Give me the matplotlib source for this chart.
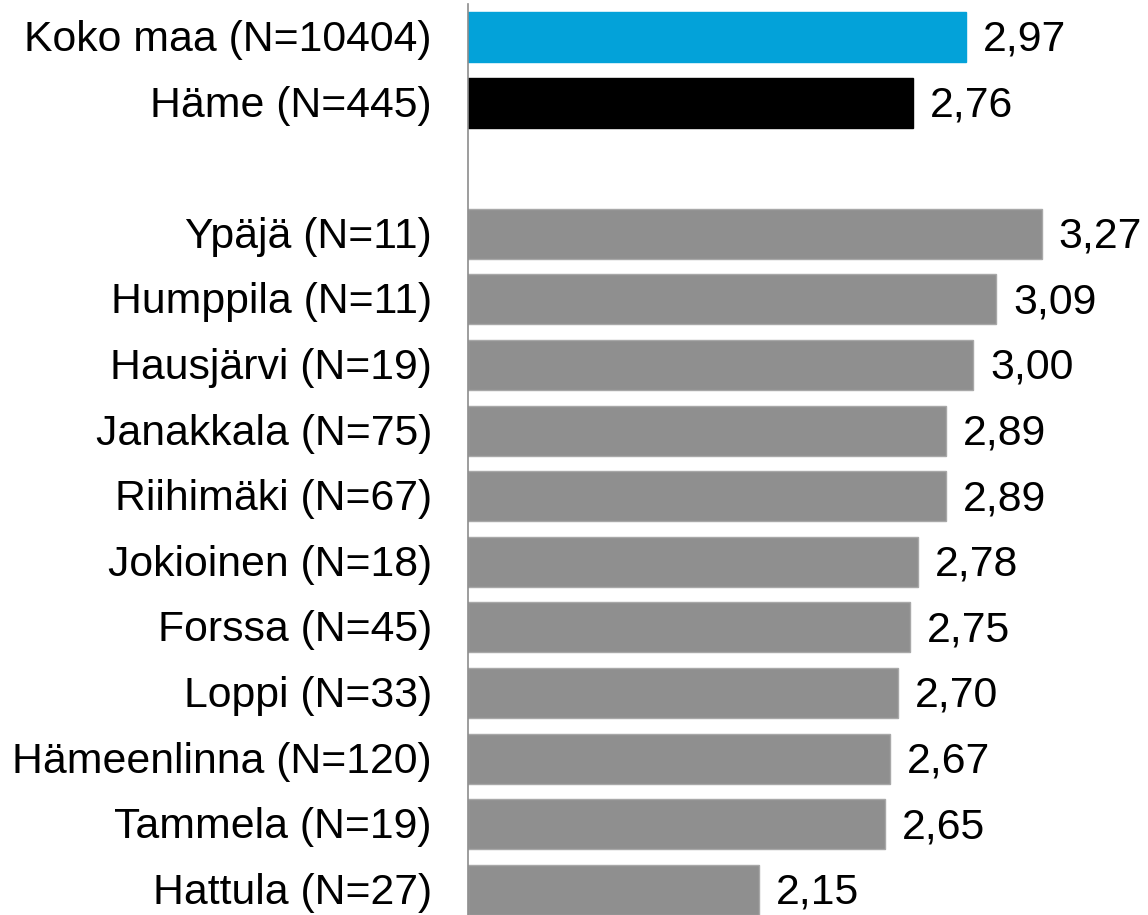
import matplotlib
matplotlib.use("Agg")
import matplotlib.pyplot as plt

labels = ["Koko maa (N=10404)", "Häme (N=445)", "",
          "Ypäjä (N=11)", "Humppila (N=11)", "Hausjärvi (N=19)", "Janakkala (N=75)",
          "Riihimäki (N=67)", "Jokioinen (N=18)", "Forssa (N=45)", "Loppi (N=33)",
          "Hämeenlinna (N=120)", "Tammela (N=19)", "Hattula (N=27)"]
values = [2.97, 2.76, None, 3.27, 3.09, 3.00, 2.89, 2.89, 2.78, 2.75, 2.70, 2.67, 2.65, 2.15]
colors = ["#03A2D9", "#000000", None] + ["#8F8F8F"] * 11

plt.rcParams['font.family'] = ['Liberation Sans', 'DejaVu Sans']
W, H = 1148, 915
fig = plt.figure(figsize=(W / 100, H / 100), dpi=100)
left = 468 / W
top_px, bot_px = 4, 915
ax = fig.add_axes([left, 1 - bot_px / H, 1 - left, (bot_px - top_px) / H])

xmin = 1.0
ppu = 252.7
xmax = xmin + (W - 468) / ppu
step = 65.6
c0 = 37
ax.set_xlim(xmin, xmax)
ax.set_ylim((bot_px - c0) / step, (top_px - c0) / step)

fs = 30.75
dy = 3 / step
for i, (lab, v, c) in enumerate(zip(labels, values, colors)):
    if v is None:
        continue
    ec = "#A8A8A8" if c == "#8F8F8F" else c
    ax.barh(i, v - xmin, left=xmin, height=50 / step, color=c, edgecolor=ec, linewidth=1)
    ax.text(v + 17 / ppu, i + dy, f"{v:.2f}".replace(".", ","), va="center", ha="left",
            fontsize=fs, color="black", clip_on=False)
    ax.text(xmin - 36 / ppu, i + dy, lab, va="center", ha="right", fontsize=fs,
            color="black", clip_on=False)

for s in ["top", "right", "bottom"]:
    ax.spines[s].set_visible(False)
ax.spines["left"].set_color("#8C8C8C")
ax.spines["left"].set_linewidth(1.2)
ax.set_xticks([])
ax.set_yticks([])
fig.savefig("out.png", dpi=100)
